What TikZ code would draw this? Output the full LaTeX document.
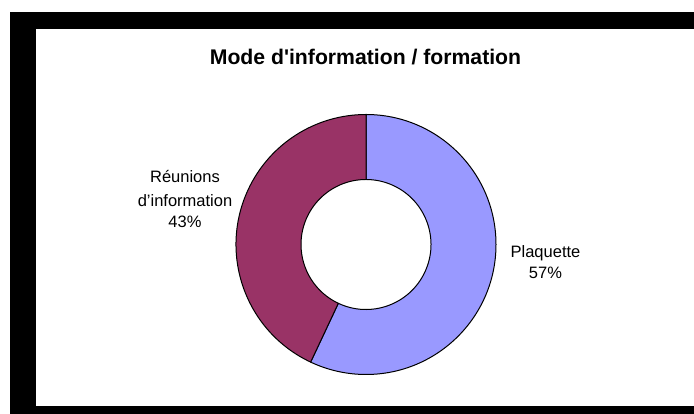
\documentclass[tikz,border=0pt]{standalone}
\usepackage{fontspec}
\setmainfont{Liberation Sans}[Ligatures=TeXOff]
\usetikzlibrary{calc}
\definecolor{plaq}{RGB}{153,153,255}
\definecolor{reun}{RGB}{153,51,102}
\tikzset{
  sector/.style={draw=black, line width=1pt, line join=round},
  lbl/.style={anchor=base, inner sep=0pt, font=\fontsize{16.5}{20}\selectfont},
  ttl/.style={anchor=base, inner sep=0pt, font=\fontsize{21.2}{25}\selectfont\bfseries}
}
\begin{document}
\begin{tikzpicture}[x=1pt,y=1pt]
\useasboundingbox (0,0) rectangle (694,414);
\fill[white] (0,0) rectangle (694,414);
\fill[black] (10,0) rectangle (694,402);
\fill[white] (36,8) rectangle (694,385);
\node[ttl] (title) at (365.5,349) {Mode d'information / formation};
\coordinate (c) at (366,169.5);
\path[sector, fill=plaq] (c) ++(90:130) arc[start angle=90, end angle=-115.2, radius=130]
  -- ($(c)+(-115.2:65)$) arc[start angle=-115.2, end angle=90, radius=65] -- cycle;
\path[sector, fill=reun] (c) ++(-115.2:130) arc[start angle=-115.2, end angle=-270, radius=130]
  -- ($(c)+(90:65)$) arc[start angle=90, end angle=244.8, radius=65] -- cycle;
\node[lbl] (p1) at (545.5,156) {Plaquette};
\node[lbl] (p2) at (545.5,135.5) {57\%};
\node[lbl] (r1) at (185,231) {Réunions};
\node[lbl] (r2) at (185,207.5) {d’information};
\node[lbl] (r3) at (185,186) {43\%};
\end{tikzpicture}
\end{document}
